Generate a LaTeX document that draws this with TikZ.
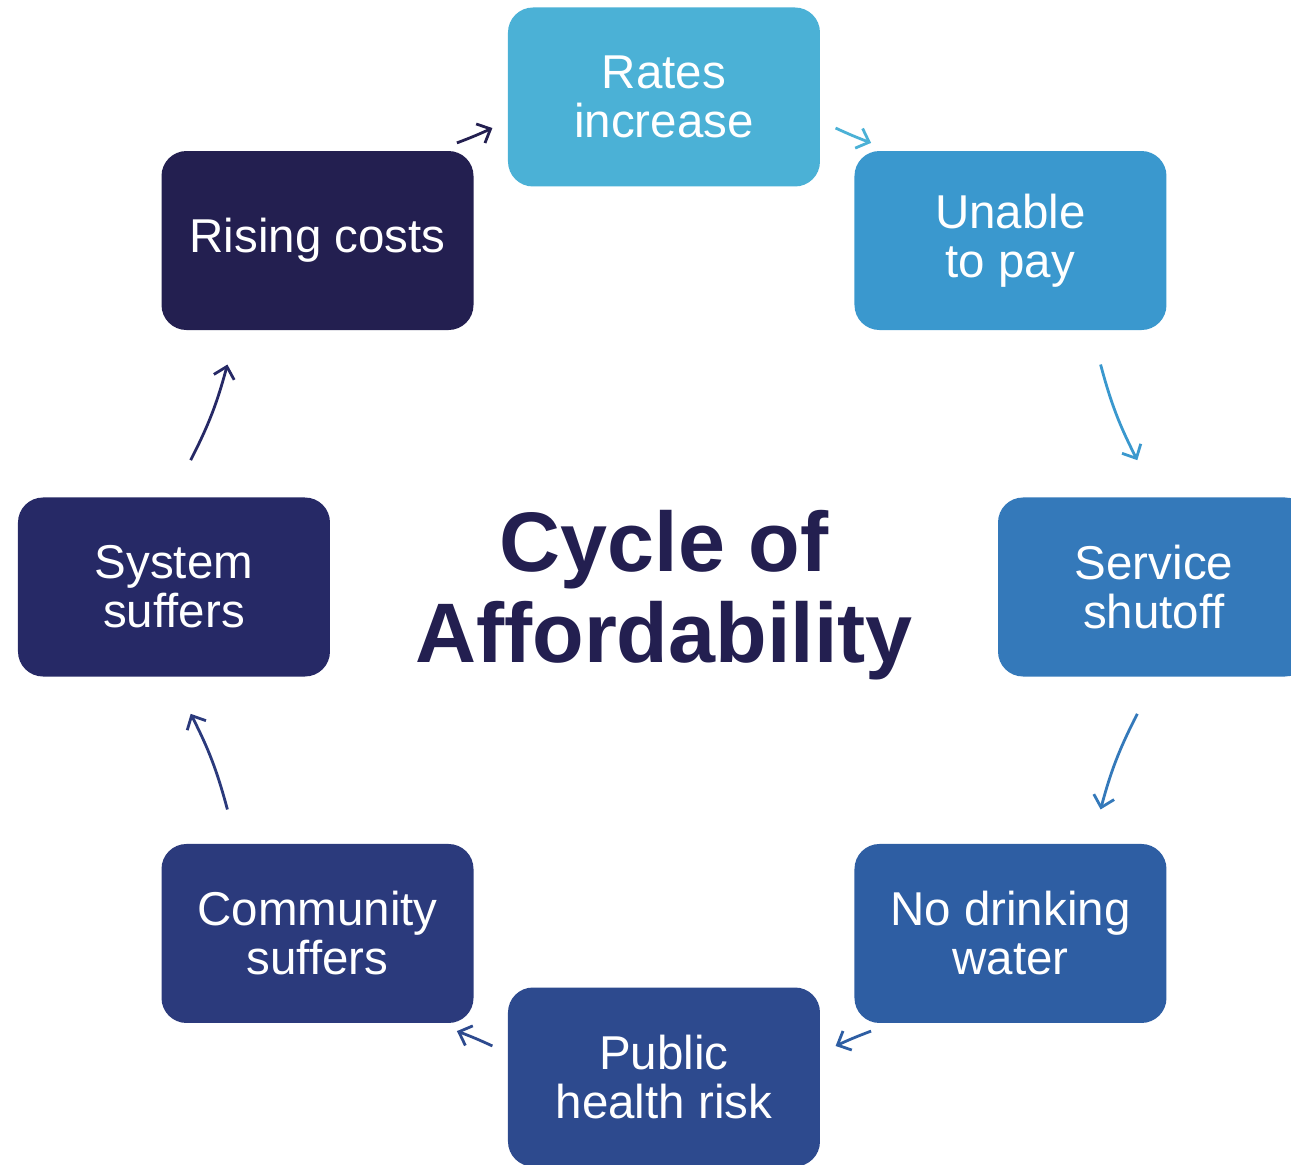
\documentclass[tikz,border=0pt]{standalone}
\usepackage{fontspec}
\setmainfont{Liberation Sans}
\usepackage{tikz}
\usetikzlibrary{arrows.meta}
\definecolor{risingnavy}{HTML}{231F50}
\definecolor{ratesblue}{HTML}{4BB1D6}
\definecolor{unableblue}{HTML}{3A98CE}
\definecolor{serviceblue}{HTML}{3479BA}
\definecolor{waterblue}{HTML}{2E5EA3}
\definecolor{healthblue}{HTML}{2D4A8E}
\definecolor{communityblue}{HTML}{2B3A7C}
\definecolor{systemnavy}{HTML}{262966}

\tikzset{
	stepbox/.style={rectangle, rounded corners=25pt, minimum width=312pt, minimum height=179pt, inner sep=0pt, text=white, align=center, font=\fontsize{47.5pt}{49pt}\selectfont},
	cyc/.style={-{Straight Barb[length=11pt,width=21pt]}, line width=2.8pt}
}

\begin{document}
\begin{tikzpicture}[x=1pt,y=1pt]
		\useasboundingbox (-664,-578) rectangle (627,587);
		
		\node[stepbox,fill=ratesblue] (rates) at (90:490) {Rates\\increase};
		\node[stepbox,fill=unableblue] (unable) at (45:490) {Unable\\to pay};
		\node[stepbox,fill=serviceblue] (service) at (0:490) {Service\\shutoff};
		\node[stepbox,fill=waterblue] (water) at (-45:490) {No drinking\\water};
		\node[stepbox,fill=healthblue] (health) at (-90:490) {Public\\health risk};
		\node[stepbox,fill=communityblue] (community) at (-135:490) {Community\\suffers};
		\node[stepbox,fill=systemnavy] (system) at (180:490) {System\\suffers};
		\node[stepbox,fill=risingnavy] (rising) at (135:490) {Rising costs};
		
		\node[text=risingnavy, align=center, font=\fontsize{84.5pt}{91pt}\selectfont\bfseries] (title) at (0,-8) {Cycle of\\Affordability};
		
		% arrow ends on the circle between the boxes
		\coordinate (a1) at (115:490);   \coordinate (b1) at (110.5:490);
		\coordinate (a2) at (69.5:490);  \coordinate (b2) at (65:490);
		\coordinate (a3) at (27:490);    \coordinate (b3) at (15:490);
		\coordinate (a4) at (-15:490);   \coordinate (b4) at (-27:490);
		\coordinate (a5) at (-65:490);   \coordinate (b5) at (-69.5:490);
		\coordinate (a6) at (-110.5:490);\coordinate (b6) at (-115:490);
		\coordinate (a7) at (-153:490);  \coordinate (b7) at (-165:490);
		\coordinate (a8) at (165:490);   \coordinate (b8) at (153:490);
		
		\draw[cyc,risingnavy] (a1) to[bend right=2] (b1);
		\draw[cyc,ratesblue] (a2) to[bend right=2] (b2);
		\draw[cyc,unableblue] (a3) to[bend right=6] (b3);
		\draw[cyc,serviceblue] (a4) to[bend right=6] (b4);
		\draw[cyc,waterblue] (a5) to[bend right=2] (b5);
		\draw[cyc,healthblue] (a6) to[bend right=2] (b6);
		\draw[cyc,communityblue] (a7) to[bend right=6] (b7);
		\draw[cyc,systemnavy] (a8) to[bend right=6] (b8);
		
\end{tikzpicture}
\end{document}
